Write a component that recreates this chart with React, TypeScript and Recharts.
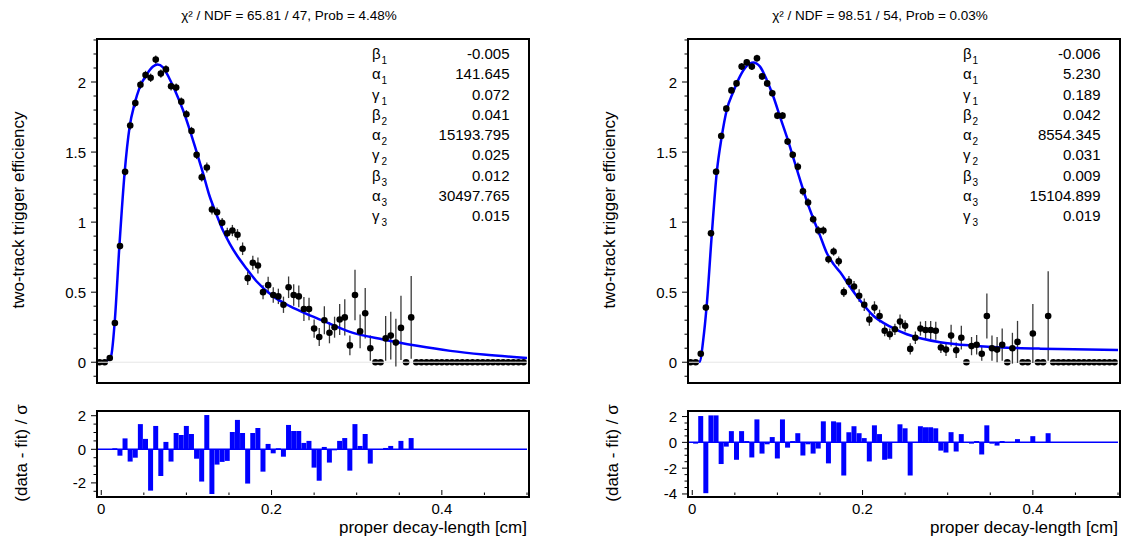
import React from 'react';
import { ComposedChart, Line, Scatter, ErrorBar, Bar, XAxis, YAxis, ReferenceLine } from 'recharts';

const FONT = '"Liberation Sans", Arial, sans-serif';

// bin centres of the decay-length histogram [cm]
const binCenters = [
  -0.002, 0.004, 0.01, 0.016, 0.022, 0.028, 0.034, 0.04, 0.046, 0.052,
  0.058, 0.064, 0.07, 0.076, 0.082, 0.088, 0.094, 0.1, 0.106, 0.112,
  0.118, 0.124, 0.13, 0.136, 0.142, 0.148, 0.154, 0.16, 0.166, 0.172,
  0.178, 0.184, 0.19, 0.196, 0.202, 0.208, 0.214, 0.22, 0.226, 0.232,
  0.238, 0.244, 0.25, 0.256, 0.262, 0.268, 0.274, 0.28, 0.286, 0.292,
  0.298, 0.304, 0.31, 0.316, 0.322, 0.328, 0.334, 0.34, 0.346, 0.352,
  0.358, 0.364, 0.37, 0.376, 0.382, 0.388, 0.394, 0.4, 0.406, 0.412,
  0.418, 0.424, 0.43, 0.436, 0.442, 0.448, 0.454, 0.46, 0.466, 0.472,
  0.478, 0.484, 0.49, 0.496,
];

// ---- left panel ----
const leftEff = [
  0, 0, 0.03, 0.28, 0.83, 1.36, 1.69, 1.85, 1.98, 2.05,
  2.03, 2.16, 2.06, 2.09, 1.97, 1.96, 1.86, 1.77, 1.65, 1.48,
  1.32, 1.39, 1.09, 1.07, 0.995, 0.92, 0.94, 0.91, 0.81, 0.6,
  0.71, 0.69, 0.5, 0.55, 0.48, 0.47, 0.41, 0.535, 0.48, 0.47,
  0.38, 0.38, 0.24, 0.18, 0.3, 0.21, 0.25, 0.305, 0.32, 0.12,
  0.48, 0.22, 0.35, 0.1, 0, 0, 0.17, 0.19, 0.14, 0.245,
  0, 0.32, 0, 0, 0, 0, 0, 0, 0, 0,
  0, 0, 0, 0, 0, 0, 0, 0, 0, 0,
  0, 0, 0, 0,
];
const leftErr = [
  0, 0, 0.01, 0.02, 0.025, 0.03, 0.03, 0.03, 0.03, 0.03,
  0.03, 0.03, 0.03, 0.03, 0.03, 0.03, 0.03, 0.03, 0.03, 0.03,
  0.03, 0.035, 0.035, 0.035, 0.035, 0.04, 0.04, 0.04, 0.045, 0.048,
  0.05, 0.057, 0.05, 0.06, 0.055, 0.055, 0.058, 0.077, 0.077, 0.077,
  0.085, 0.08, 0.065, 0.065, 0.1, 0.075, 0.075, 0.11, 0.13, 0.07,
  0.18, 0.12, 0.18, 0.09, 0, 0, 0.16, 0.17, 0.17, 0.23,
  0, 0.295, 0, 0, 0, 0, 0, 0, 0, 0,
  0, 0, 0, 0, 0, 0, 0, 0, 0, 0,
  0, 0, 0, 0,
];
const leftPull = [
  0, 0, 0, 0.06, -0.38, 0.65, -0.73, -0.5, 1.5, 0.62,
  -2.46, 1.39, -1.59, 0.44, -0.73, 0.97, 0.85, 1.39, 0.91, -0.56,
  -1.92, 2.04, -2.66, -0.91, -0.75, -0.69, 1.03, 1.75, 0.97, -2.04,
  0.97, 1.27, -1.33, 0.32, -0.24, 0.06, -0.44, 1.45, 1.09, 1.09,
  0.38, 0.5, -1.09, -1.87, 0.14, -0.79, -0.06, 0.5, 0.67, -1.27,
  1.5, 0.2, 0.91, -0.85, 0, 0, 0.08, 0.2, 0, 0.5,
  0, 0.67, 0, 0, 0, 0, 0, 0, 0, 0,
  0, 0, 0, 0, 0, 0, 0, 0, 0, 0,
  0, 0, 0, 0,
];
const leftFitX = [
  -0.005, 0.004, 0.009, 0.0118, 0.0157, 0.0215, 0.0274, 0.0333, 0.039, 0.045,
  0.053, 0.0608, 0.066, 0.0725, 0.08, 0.088, 0.096, 0.104, 0.112, 0.1195,
  0.127, 0.135, 0.143, 0.151, 0.159, 0.171, 0.182, 0.202, 0.2215, 0.243,
  0.253, 0.292, 0.331, 0.371, 0.41, 0.449, 0.5,
];
const leftFitY = [
  0, 0.005, 0.02, 0.05, 0.28, 0.85, 1.35, 1.68, 1.84, 1.96,
  2.05, 2.11, 2.125, 2.105, 2.025, 1.92, 1.8, 1.657, 1.5, 1.35,
  1.19, 1.06, 0.94, 0.845, 0.765, 0.665, 0.58, 0.47, 0.4, 0.34,
  0.315, 0.217, 0.162, 0.117, 0.081, 0.055, 0.03,
];
const leftTitle = 'χ² / NDF = 65.81 / 47, Prob = 4.48%';
const leftParamValues = ['-0.005', '141.645', '0.072', '0.041', '15193.795', '0.025', '0.012', '30497.765', '0.015'];

// ---- right panel ----
const rightEff = [
  0, 0, 0.06, 0.39, 0.92, 1.36, 1.615, 1.81, 1.94, 1.99,
  2.11, 2.14, 2.11, 2.17, 2.04, 1.99, 1.92, 1.76, 1.76, 1.575,
  1.48, 1.395, 1.22, 1.14, 1.02, 0.94, 0.94, 0.735, 0.79, 0.72,
  0.5, 0.575, 0.54, 0.475, 0.41, 0.305, 0.39, 0.33, 0.225, 0.2,
  0.235, 0.29, 0.26, 0.095, 0.175, 0.24, 0.23, 0.23, 0.225, 0.105,
  0.09, 0.19, 0.085, 0.175, 0, 0.115, 0.125, 0.06, 0.33, 0.1,
  0.09, 0.125, 0, 0.1, 0.145, 0, 0, 0.205, 0, 0,
  0.33, 0, 0, 0, 0, 0, 0, 0, 0, 0,
  0, 0, 0, 0,
];
const rightErr = [
  0, 0, 0.01, 0.02, 0.02, 0.025, 0.025, 0.025, 0.025, 0.025,
  0.025, 0.025, 0.025, 0.025, 0.025, 0.025, 0.025, 0.025, 0.025, 0.025,
  0.025, 0.03, 0.03, 0.03, 0.03, 0.03, 0.03, 0.03, 0.03, 0.035,
  0.035, 0.04, 0.04, 0.045, 0.045, 0.045, 0.045, 0.045, 0.04, 0.04,
  0.04, 0.05, 0.04, 0.04, 0.045, 0.05, 0.064, 0.064, 0.064, 0.04,
  0.045, 0.077, 0.055, 0.085, 0, 0.065, 0.07, 0.05, 0.16, 0.09,
  0.09, 0.115, 0, 0.11, 0.15, 0, 0, 0.21, 0, 0,
  0.32, 0, 0, 0, 0, 0, 0, 0, 0, 0,
  0, 0, 0, 0,
];
const rightPull = [
  0, -0.1, 2.04, -3.94, 2.09, 2.09, -1.68, -0.33, 0.87, -1.35,
  0.87, 0.1, -1.17, 1.78, -0.87, -0.15, 0.41, -1.25, 1.78, -0.41,
  0.1, 0.71, -1.02, -0.15, -0.87, -0.48, 1.63, -1.63, 1.63, 1.55,
  -2.57, 0.79, 1.25, 0.71, 0.33, -1.48, 1.32, 0.64, -1.35, -1.27,
  0, 1.4, 1.09, -2.57, 0, 1.25, 1.17, 1.17, 1.09, -0.64,
  -0.79, 0.79, -0.71, 0.64, 0, -0.1, 0.1, -0.94, 1.32, -0.1,
  -0.25, 0.1, 0, 0, 0.25, 0, 0, 0.48, 0, 0,
  0.71, 0, 0, 0, 0, 0, 0, 0, 0, 0,
  0, 0, 0, 0,
];
const rightFitX = [
  -0.005, 0.005, 0.009, 0.0129, 0.0169, 0.0228, 0.0287, 0.0346, 0.0405, 0.0482,
  0.056, 0.064, 0.0718, 0.0796, 0.0875, 0.0953, 0.1032, 0.111, 0.1189, 0.1267,
  0.1346, 0.1424, 0.15, 0.158, 0.166, 0.174, 0.184, 0.196, 0.213, 0.2326,
  0.252, 0.2718, 0.291, 0.33, 0.37, 0.409, 0.448, 0.5,
];
const rightFitY = [
  0, 0, 0.005, 0.16, 0.4, 0.9, 1.35, 1.61, 1.8, 1.93,
  2.04, 2.115, 2.14, 2.11, 2.015, 1.895, 1.75, 1.61, 1.455, 1.3,
  1.15, 1.02, 0.905, 0.78, 0.7, 0.64, 0.55, 0.45, 0.33, 0.254,
  0.2, 0.166, 0.143, 0.118, 0.104, 0.097, 0.093, 0.088,
];
const rightTitle = 'χ² / NDF = 98.51 / 54, Prob = 0.03%';
const rightParamValues = ['-0.006', '5.230', '0.189', '0.042', '8554.345', '0.031', '0.009', '15104.899', '0.019'];

// shared labels and ticks
const paramSymbols = ['β', 'α', 'γ', 'β', 'α', 'γ', 'β', 'α', 'γ'];
const paramIndex = ['1', '1', '1', '2', '2', '2', '3', '3', '3'];
const effTicks = [-0.1, 0, 0.1, 0.2, 0.3, 0.4, 0.5, 0.6, 0.7, 0.8, 0.9, 1, 1.1, 1.2, 1.3, 1.4, 1.5, 1.6, 1.7, 1.8, 1.9, 2, 2.1, 2.2, 2.3];
const lengthTicks = [0, 0.05, 0.1, 0.15, 0.2, 0.25, 0.3, 0.35, 0.4, 0.45, 0.5];
const leftPullTicks = [-2.5, -2, -1.5, -1, -0.5, 0, 0.5, 1, 1.5, 2];
const rightPullTicks = [-4, -3.5, -3, -2.5, -2, -1.5, -1, -0.5, 0, 0.5, 1, 1.5, 2];

const X_DOMAIN = [-0.005, 0.5];
const EFF_DOMAIN = [-0.134, 2.307];

const isMultiple = (v: number, step: number) => Math.abs(v / step - Math.round(v / step)) < 1e-6;

const EffTick = (p: any) => {
  const v = p.payload.value;
  const major = isMultiple(v, 0.5);
  return (
    <g>
      <line x1={p.x - (major ? 6 : 3.5)} x2={p.x} y1={p.y} y2={p.y} stroke="#000" strokeWidth={1} />
      {major && (
        <text x={p.x - 11} y={p.y + 5.5} textAnchor="end" fontSize={15} fontFamily={FONT} fill="#000">{v}</text>
      )}
    </g>
  );
};

const PullTick = (p: any) => {
  const v = p.payload.value;
  const major = isMultiple(v, 2);
  return (
    <g>
      <line x1={p.x - (major ? 6 : 3.5)} x2={p.x} y1={p.y} y2={p.y} stroke="#000" strokeWidth={1} />
      {major && (
        <text x={p.x - 11} y={p.y + 5.5} textAnchor="end" fontSize={15} fontFamily={FONT} fill="#000">{v}</text>
      )}
    </g>
  );
};

const LengthTick = (p: any) => {
  const v = p.payload.value;
  const major = isMultiple(v, 0.2);
  return (
    <g>
      <line x1={p.x} x2={p.x} y1={p.y} y2={p.y - (major ? 5 : 2.5)} stroke="#000" strokeWidth={1} />
      {major && (
        <text x={p.x} y={p.y + 19} textAnchor="middle" fontSize={15} fontFamily={FONT} fill="#000">{v}</text>
      )}
    </g>
  );
};

// empty bins: marker crossed by the light zero line, as in the original
const Dot = (p: any) => (
  <g>
    <circle cx={p.cx} cy={p.cy} r={3.3} fill="#000" />
    {p.payload && p.payload.y === 0 && (
      <line x1={p.cx - 3.5} x2={p.cx + 3.5} y1={p.cy} y2={p.cy} stroke="#f0f0f0" strokeWidth={1} />
    )}
  </g>
);

type PanelProps = {
  left: number;
  eff: number[];
  err: number[];
  pull: number[];
  fitX: number[];
  fitY: number[];
  pullDomain: number[];
  pullTicks: number[];
  title: string;
  values: string[];
};

const Panel = ({ left, eff, err, pull, fitX, fitY, pullDomain, pullTicks, title, values }: PanelProps) => {
  const points = binCenters.map((x, i) => ({ x, y: eff[i], e: err[i] }));
  const fit = fitX.map((x, i) => ({ x, y: fitY[i] }));
  const pulls = binCenters.map((x, i) => ({ x, r: pull[i] }));

  return (
    <div style={{ position: 'absolute', left, top: 0, width: 560, height: 544 }}>
      <div style={{ position: 'absolute', left: 0, top: 0 }}>
        <ComposedChart width={537} height={391} margin={{ top: 39, right: 10, bottom: 10, left: 0 }}>
          <XAxis type="number" dataKey="x" domain={X_DOMAIN} allowDataOverflow hide />
          <YAxis
            type="number"
            domain={EFF_DOMAIN}
            allowDataOverflow
            ticks={effTicks}
            interval={0}
            width={97}
            tickSize={0}
            tickMargin={0}
            axisLine={false}
            tickLine={false}
            tick={(p: any) => <EffTick {...p} />}
          />
          <ReferenceLine y={0} stroke="#e6e6e6" strokeWidth={1} />
          <Scatter data={points} dataKey="y" shape={Dot} isAnimationActive={false}>
            <ErrorBar dataKey="e" direction="y" width={0} stroke="#3a3a3a" strokeWidth={1.3} />
          </Scatter>
          <Line data={fit} dataKey="y" type="monotone" stroke="#0000ff" strokeWidth={2.5} dot={false} isAnimationActive={false} />
        </ComposedChart>
      </div>
      <div style={{ position: 'absolute', left: 0, top: 400 }}>
        <ComposedChart width={537} height={144} data={pulls} margin={{ top: 11, right: 10, bottom: 0, left: 0 }}>
          <XAxis
            type="number"
            dataKey="x"
            domain={X_DOMAIN}
            allowDataOverflow
            ticks={lengthTicks}
            interval={0}
            height={49}
            tickSize={0}
            tickMargin={0}
            axisLine={false}
            tickLine={false}
            tick={(p: any) => <LengthTick {...p} />}
          />
          <YAxis
            type="number"
            domain={pullDomain}
            allowDataOverflow
            ticks={pullTicks}
            interval={0}
            width={97}
            tickSize={0}
            tickMargin={0}
            axisLine={false}
            tickLine={false}
            tick={(p: any) => <PullTick {...p} />}
          />
          <Bar dataKey="r" fill="#0000ff" barSize={5} isAnimationActive={false} />
          <ReferenceLine y={0} stroke="#0000ff" strokeWidth={1.5} />
        </ComposedChart>
      </div>

      {/* frames */}
      <div style={{ position: 'absolute', left: 96, top: 38, width: 430, height: 342, border: '2px solid #000', pointerEvents: 'none' }} />
      <div style={{ position: 'absolute', left: 96, top: 410, width: 430, height: 84, border: '2px solid #000', pointerEvents: 'none' }} />

      <svg width={560} height={544} style={{ position: 'absolute', left: 0, top: 0, pointerEvents: 'none' }} fontFamily={FONT}>
        <text x={289} y={19.5} textAnchor="middle" fontSize={13.5} fill="#000">{title}</text>
        <text x={24} y={210} transform="rotate(-90 24 210)" textAnchor="middle" fontSize={17} fill="#000">two-track trigger efficiency</text>
        <text x={27} y={453} transform="rotate(-90 27 453)" textAnchor="middle" fontSize={17} fill="#000">(data - fit) / σ</text>
        <text x={527} y={533} textAnchor="end" fontSize={17} fill="#000">proper decay-length [cm]</text>
        {paramSymbols.map((s, i) => (
          <g key={i}>
            <text x={372} y={59 + 20.25 * i} fontSize={15} fill="#000">{s}</text>
            <text x={381.5} y={64 + 20.25 * i} fontSize={10} fill="#000">{paramIndex[i]}</text>
            <text x={509.5} y={59 + 20.25 * i} textAnchor="end" fontSize={15} fill="#000">{values[i]}</text>
          </g>
        ))}
      </svg>
    </div>
  );
}

export default function App() {
  return (
    <div style={{ position: 'relative', width: 1121, height: 544, background: '#fff', overflow: 'hidden' }}>
      <style>{'body{margin:0}'}</style>
      <Panel
        left={0}
        eff={leftEff}
        err={leftErr}
        pull={leftPull}
        fitX={leftFitX}
        fitY={leftFitY}
        pullDomain={[-2.72, 2.28]}
        pullTicks={leftPullTicks}
        title={leftTitle}
        values={leftParamValues}
      />
      <Panel
        left={591}
        eff={rightEff}
        err={rightErr}
        pull={rightPull}
        fitX={rightFitX}
        fitY={rightFitY}
        pullDomain={[-4.08, 2.43]}
        pullTicks={rightPullTicks}
        title={rightTitle}
        values={rightParamValues}
      />
    </div>
  );
}
